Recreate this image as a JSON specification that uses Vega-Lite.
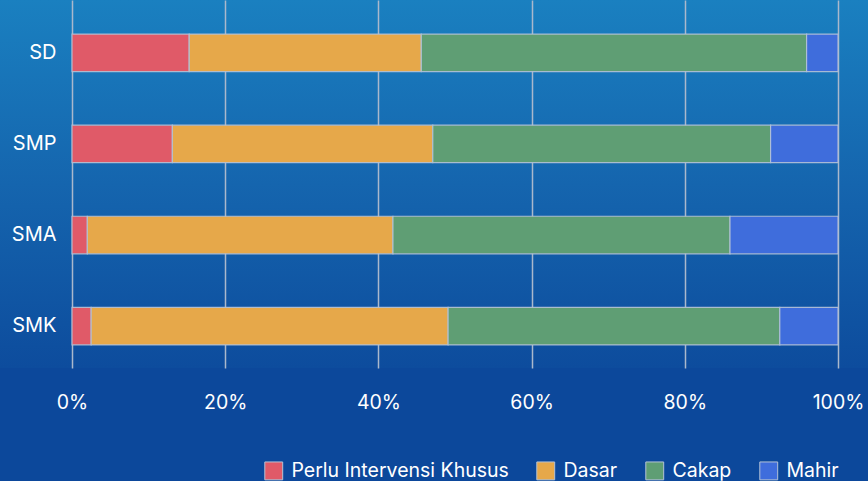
{
  "$schema": "https://vega.github.io/schema/vega-lite/v6.json",
  "width": 868,
  "height": 368,
  "padding": {"left": 0, "top": 0, "right": 0, "bottom": 2},
  "background": "#0c489b",
  "data": {
    "values": [
      {"jenjang": "SD", "kategori": "Perlu Intervensi Khusus", "k": 1, "persen": 15.3},
      {"jenjang": "SD", "kategori": "Dasar", "k": 2, "persen": 30.3},
      {"jenjang": "SD", "kategori": "Cakap", "k": 3, "persen": 50.3},
      {"jenjang": "SD", "kategori": "Mahir", "k": 4, "persen": 4.1},
      {"jenjang": "SMP", "kategori": "Perlu Intervensi Khusus", "k": 1, "persen": 13.1},
      {"jenjang": "SMP", "kategori": "Dasar", "k": 2, "persen": 34.0},
      {"jenjang": "SMP", "kategori": "Cakap", "k": 3, "persen": 44.1},
      {"jenjang": "SMP", "kategori": "Mahir", "k": 4, "persen": 8.8},
      {"jenjang": "SMA", "kategori": "Perlu Intervensi Khusus", "k": 1, "persen": 2.0},
      {"jenjang": "SMA", "kategori": "Dasar", "k": 2, "persen": 39.9},
      {"jenjang": "SMA", "kategori": "Cakap", "k": 3, "persen": 44.0},
      {"jenjang": "SMA", "kategori": "Mahir", "k": 4, "persen": 14.1},
      {"jenjang": "SMK", "kategori": "Perlu Intervensi Khusus", "k": 1, "persen": 2.5},
      {"jenjang": "SMK", "kategori": "Dasar", "k": 2, "persen": 46.6},
      {"jenjang": "SMK", "kategori": "Cakap", "k": 3, "persen": 43.3},
      {"jenjang": "SMK", "kategori": "Mahir", "k": 4, "persen": 7.6}
    ]
  },
  "mark": {"type": "bar", "stroke": "#b4c2d6", "strokeWidth": 1.2, "strokeOpacity": 0.9},
  "encoding": {
    "y": {
      "field": "jenjang",
      "type": "nominal",
      "sort": ["SD", "SMP", "SMA", "SMK"],
      "scale": {"paddingInner": 0.588, "paddingOuter": 0.314, "align": 0.596},
      "axis": {
        "title": null,
        "offset": -72,
        "domain": false,
        "ticks": false,
        "labelPadding": 16,
        "labelFontSize": 20,
        "labelColor": "#ffffff",
        "labelFont": "Inter"
      }
    },
    "x": {
      "field": "persen",
      "type": "quantitative",
      "stack": "normalize",
      "scale": {"range": [72, 838]},
      "axis": {
        "title": null,
        "values": [0, 0.2, 0.4, 0.6, 0.8, 1],
        "format": ".0%",
        "domain": false,
        "ticks": false,
        "grid": true,
        "gridColor": "#aab8cc",
        "gridWidth": 1.5,
        "labelPadding": 25,
        "labelFontSize": 19.5,
        "labelColor": "#ffffff",
        "labelFont": "Inter",
        "labelFlush": false
      }
    },
    "color": {
      "field": "kategori",
      "type": "nominal",
      "scale": {
        "domain": ["Perlu Intervensi Khusus", "Dasar", "Cakap", "Mahir"],
        "range": ["#e05a68", "#e6a84a", "#5f9e74", "#3f6ddc"]
      },
      "legend": {
        "title": null,
        "orient": "none",
        "legendX": 264,
        "legendY": 461,
        "direction": "horizontal",
        "symbolType": "square",
        "symbolSize": 320,
        "symbolStrokeColor": "#b4c2d6",
        "symbolStrokeWidth": 1,
        "symbolOpacity": 1,
        "labelColor": "#ffffff",
        "labelFontSize": 19.5,
        "labelFont": "Inter",
        "labelLimit": 0,
        "labelOffset": 8,
        "columnPadding": 25
      }
    },
    "order": {"field": "k", "type": "quantitative"}
  },
  "config": {
    "view": {
      "stroke": null,
      "fill": {
        "gradient": "linear",
        "x1": 0, "y1": 0, "x2": 0, "y2": 1,
        "stops": [
          {"offset": 0, "color": "#1a80c0"},
          {"offset": 0.5, "color": "#1565ae"},
          {"offset": 1, "color": "#0d4c9d"}
        ]
      }
    }
  }
}
